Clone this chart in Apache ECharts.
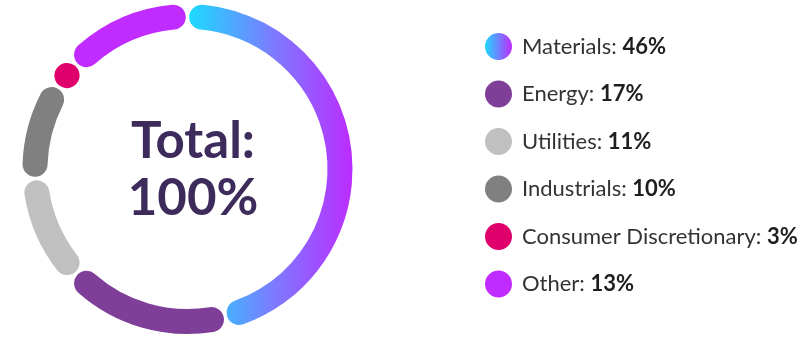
<!DOCTYPE html>
<html>
<head>
<meta charset="utf-8">
<script src="https://cdn.jsdelivr.net/npm/echarts@6/dist/echarts.min.js"></script>
<style>
  html, body { margin: 0; padding: 0; background: #ffffff; }
  #chart { width: 812px; height: 337px; }
</style>
</head>
<body>
<div id="chart"></div>
<script>
// Sector allocation
const sectors = ['Materials', 'Energy', 'Utilities', 'Industrials', 'Consumer Discretionary', 'Other'];
const weights = [46, 17, 11, 10, 3, 13];
const sectorColors = ['#1dd9ff', '#7f3f98', '#c0c0c0', '#808080', '#e0006c', '#c02bff'];
const totalLabel = ['Total:', '100%'];

const FONT = 'Lato, "Noto Sans", sans-serif';

// Materials arc fades from cyan to violet across the ring
const materialsRing = new echarts.graphic.LinearGradient(190, 0, 353, 0, [
  { offset: 0, color: '#1dd9ff' },
  { offset: 0.5, color: '#7a7dff' },
  { offset: 1, color: '#bd2bff' }
], true);
const materialsIcon = new echarts.graphic.LinearGradient(0, 0, 1, 0, [
  { offset: 0, color: '#1dd9ff' },
  { offset: 1, color: '#c02bff' }
]);

const pieData = sectors.map((name, i) => ({
  name: name,
  value: weights[i],
  itemStyle: { color: i === 0 ? materialsRing : sectorColors[i] }
}));

const legendData = sectors.map((name, i) => ({
  name: name,
  itemStyle: { color: i === 0 ? materialsIcon : sectorColors[i] }
}));

const chart = echarts.init(document.getElementById('chart'), null, { renderer: 'canvas' });

chart.setOption({
  animation: false,
  title: {
    text: totalLabel.join('\n'),
    left: 188,
    top: 108,
    textAlign: 'center',
    textStyle: {
      fontFamily: FONT,
      fontSize: 51,
      fontWeight: 'bold',
      color: '#3d2b5b',
      lineHeight: 57
    }
  },
  legend: {
    orient: 'vertical',
    left: 485,
    top: 33,
    padding: 0,
    icon: 'circle',
    itemWidth: 27,
    itemHeight: 27,
    itemGap: 20.5,
    selectedMode: false,
    data: legendData,
    formatter: function (name) {
      const v = weights[sectors.indexOf(name)];
      return '{n|' + name + ': }{b|' + v + '%}';
    },
    textStyle: {
      padding: [0, 0, 0, 5],
      rich: {
        n: { fontFamily: FONT, fontSize: 22, color: '#333333' },
        b: { fontFamily: FONT, fontSize: 22, fontWeight: 'bold', color: '#1e1e1e' }
      }
    }
  },
  series: [{
    type: 'pie',
    center: [187.5, 169],
    radius: [140, 165],
    startAngle: 90,
    clockwise: true,
    padAngle: 1.3,
    silent: true,
    label: { show: false },
    labelLine: { show: false },
    itemStyle: { borderRadius: 13, borderWidth: 0 },
    emphasis: { disabled: true },
    data: pieData
  }]
});
</script>
</body>
</html>
